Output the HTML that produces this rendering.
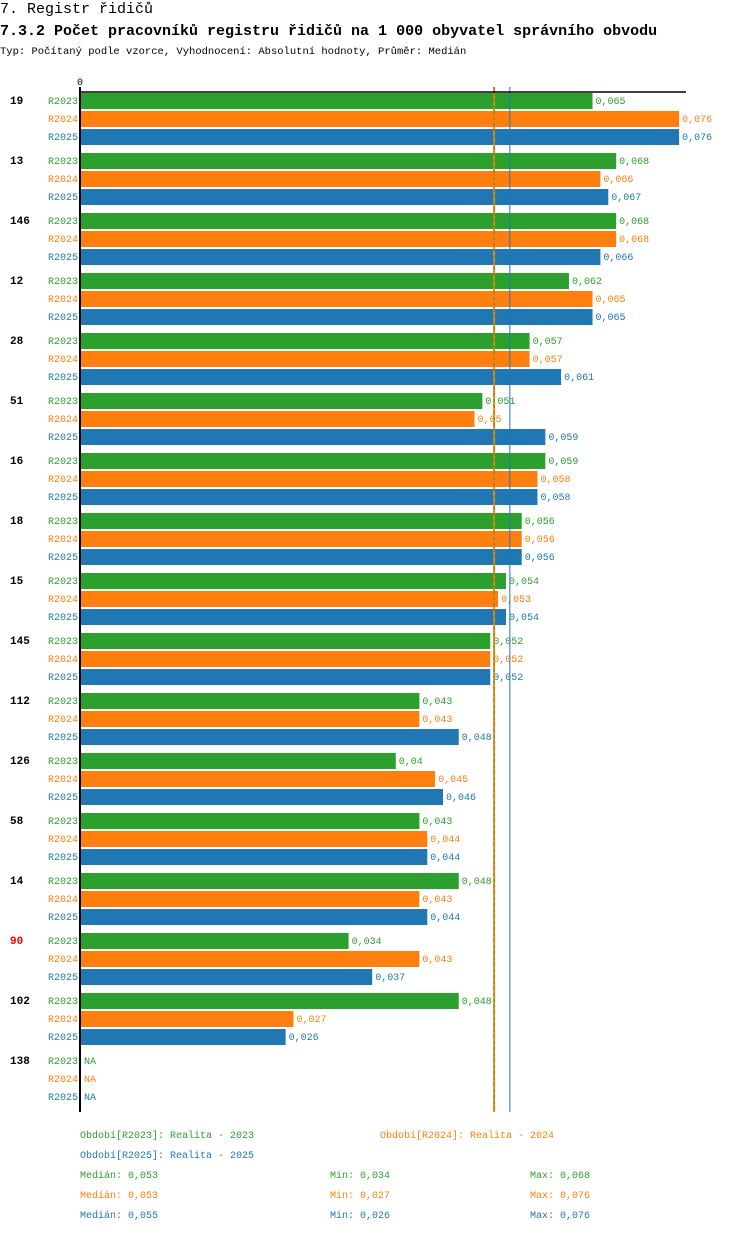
<!DOCTYPE html>
<html><head><meta charset="utf-8"><style>
body{margin:0;background:#fff;width:750px;height:1232px;overflow:hidden;font-family:"Liberation Mono","DejaVu Sans Mono",monospace}
svg text{font-family:"Liberation Mono","DejaVu Sans Mono",monospace}
</style></head><body>
<svg id="c" width="750" height="1232" xmlns="http://www.w3.org/2000/svg">
<text x="0" y="13" font-size="15">7. Registr řidičů</text>
<text x="0" y="35" font-size="15" font-weight="bold">7.3.2 Počet pracovníků registru řidičů na 1 000 obyvatel správního obvodu</text>
<text x="0" y="54" font-size="10.5">Typ: Počítaný podle vzorce, Vyhodnocení: Absolutní hodnoty, Průměr: Medián</text>
<text x="77" y="85" font-size="10">0</text>
</svg>
<script>
const categories=["19","13","146","12","28","51","16","18","15","145","112","126","58","14","90","102","138"];
const r2023=[0.065,0.068,0.068,0.062,0.057,0.051,0.059,0.056,0.054,0.052,0.043,0.04,0.043,0.048,0.034,0.048,null];
const r2024=[0.076,0.066,0.068,0.065,0.057,0.05,0.058,0.056,0.053,0.052,0.043,0.045,0.044,0.043,0.043,0.027,null];
const r2025=[0.076,0.067,0.066,0.065,0.061,0.059,0.058,0.056,0.054,0.052,0.048,0.046,0.044,0.044,0.037,0.026,null];
const seriesNames=["R2023","R2024","R2025"];
const medians=[0.053,0.053,0.055];
const mins=[0.034,0.027,0.026];
const maxs=[0.068,0.076,0.076];
const colors=["#2ca02c","#ff7f0e","#1f77b4"];
const svg=document.getElementById('c');
const NS="http://www.w3.org/2000/svg";
const x0=81, scale=7870;
function xs(v){return x0+v*scale;}
function mk(t,a,txt){const e=document.createElementNS(NS,t);for(const k in a)e.setAttribute(k,a[k]);if(txt!==undefined)e.textContent=txt;svg.appendChild(e);return e;}
const fmt=v=>String(v).replace('.',',');
const data=[r2023,r2024,r2025];
categories.forEach((c,i)=>{
  const gy=93+i*60;
  const g=mk('text',{x:10,y:gy+11,'font-size':11,'font-weight':'bold',fill:c==="90"?"#e00":"#000"},c);
  
  
  data.forEach((s,j)=>{
    const y=gy+j*18;
    const l=mk('text',{x:78,y:y+11,'font-size':10,fill:colors[j],'text-anchor':'end'},seriesNames[j]);
    
    
    const v=s[i];
    if(v==null){
      const n=mk('text',{x:84,y:y+11,'font-size':10,fill:colors[j]},"NA");
      
      
      return;
    }
    const r=mk('rect',{x:x0,y:y,width:xs(v)-x0,height:16,fill:colors[j]});
    
    
    const t=mk('text',{x:xs(v)+3,y:y+11,'font-size':10,fill:colors[j]},fmt(v));
    
    
  });
});
// median lines
[[1,null],[0,"3,3"],[2,null]].forEach(([j,d])=>{
  const mx=xs(medians[j])-4;
  const a={x1:mx,x2:mx,y1:87,y2:1112,stroke:colors[j],'stroke-width':j==1?2:1};
  if(d)a['stroke-dasharray']=d;
  const m=mk('line',a);
  
  
});
const tl=mk('line',{x1:80,x2:686,y1:92,y2:92,stroke:'#000','stroke-width':1.5});


const ax=mk('line',{x1:80,x2:80,y1:87,y2:1112,stroke:'#000','stroke-width':2});


// legend
const leg=[[80,1138,0,"Období[R2023]: Realita - 2023"],[380,1138,1,"Období[R2024]: Realita - 2024"],[80,1158,2,"Období[R2025]: Realita - 2025"]];
leg.forEach(([x,y,j,t])=>{
  const e=mk('text',{x:x,y:y,'font-size':10,fill:colors[j]},t);
  
  
});
[0,1,2].forEach(j=>{
  const y=1178+j*20;
  const a=mk('text',{x:80,y:y,'font-size':10,fill:colors[j]},"Medián: "+fmt(medians[j]));
  
  
  const b=mk('text',{x:330,y:y,'font-size':10,fill:colors[j]},"Min: "+fmt(mins[j]));
  
  
  const c=mk('text',{x:530,y:y,'font-size':10,fill:colors[j]},"Max: "+fmt(maxs[j]));
  
  
});
</script>
</body></html>
